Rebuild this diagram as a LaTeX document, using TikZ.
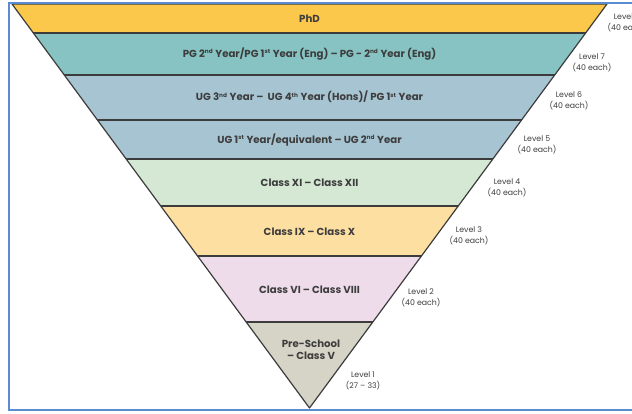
\documentclass[tikz,border=0pt]{standalone}
\usepackage{fontspec}
\setmainfont{Poppins}
\usepackage{xcolor}
\usepackage{tikz}

\definecolor{phd}{HTML}{FCC84B}
\definecolor{pg}{HTML}{86C3C2}
\definecolor{ug}{HTML}{A7C4D2}
\definecolor{senior}{HTML}{D5E8D4}
\definecolor{secondary}{HTML}{FDDFA1}
\definecolor{middle}{HTML}{EEDCEB}
\definecolor{primary}{HTML}{D6D4C6}
\definecolor{edge}{HTML}{3C3C3C}
\definecolor{ink}{HTML}{3D3D3D}
\definecolor{frame}{HTML}{5B8BD0}

\newcommand{\sups}[1]{\textsuperscript{\fontsize{5.8}{6}\selectfont #1}}

\begin{document}
\begin{tikzpicture}[x=1pt,y=-1pt]
\useasboundingbox (0,0) rectangle (632,414);
\clip (0,0) rectangle (632,414);

\coordinate (top left) at (12,4);
\coordinate (top right) at (607,4);
\coordinate (apex) at (309.5,408);

\begin{scope}
\clip (top left) -- (top right) -- (apex) -- cycle;
\fill[phd] (0,0) rectangle (632,33);
\fill[pg] (0,33) rectangle (632,75);
\fill[ug] (0,75) rectangle (632,159);
\fill[senior] (0,159) rectangle (632,206);
\fill[secondary] (0,206) rectangle (632,256);
\fill[middle] (0,256) rectangle (632,322);
\fill[primary] (0,322) rectangle (632,414);
\draw[edge,line width=1.3pt] (0,33) -- (632,33) (0,75) -- (632,75)
  (0,120) -- (632,120) (0,159) -- (632,159) (0,206) -- (632,206)
  (0,256) -- (632,256) (0,322) -- (632,322);
\end{scope}
\draw[edge,line width=1.2pt,line join=round] (top left) -- (top right) -- (apex) -- cycle;

\draw[frame,line width=1.5pt] (640,3) -- (9,3) -- (9,410) -- (640,410);

\begin{scope}[every node/.style={text=ink,font=\fontsize{10.2}{12}\selectfont\bfseries,align=center}]
\node (band 8) at (309.5,19) {PhD};
\node (band 7) at (309.5,54) {PG 2\sups{nd} Year/PG 1\sups{st} Year (Eng) -- PG - 2\sups{nd} Year (Eng)};
\node (band 6) at (309.5,97) {UG 3\sups{nd} Year --\ \ UG 4\sups{th} Year (Hons)/ PG 1\sups{st} Year};
\node (band 5) at (309.5,140) {UG 1\sups{st} Year/equivalent -- UG 2\sups{nd} Year};
\node (band 4) at (309.5,183) {Class XI -- Class XII};
\node (band 3) at (309.5,232) {Class IX -- Class X};
\node (band 2) at (309.5,290) {Class VI -- Class VIII};
\node (band 1) at (311,350) {Pre-School\\-- Class V};
\end{scope}

\begin{scope}[every node/.style={text=ink,font=\fontsize{7.8}{11.5}\selectfont,align=center}]
\node (level 8) at (627,23) {Level 8\\(40 each)};
\node (level 7) at (592,63) {Level 7\\(40 each)};
\node (level 6) at (569,101) {Level 6\\(40 each)};
\node (level 5) at (537,145) {Level 5\\(40 each)};
\node (level 4) at (507,188) {Level 4\\(40 each)};
\node (level 3) at (469,236) {Level 3\\(40 each)};
\node (level 2) at (421,298) {Level 2\\(40 each)};
\node (level 1) at (363,381) {Level 1\\(27 -- 33)};
\end{scope}

\end{tikzpicture}
\end{document}
